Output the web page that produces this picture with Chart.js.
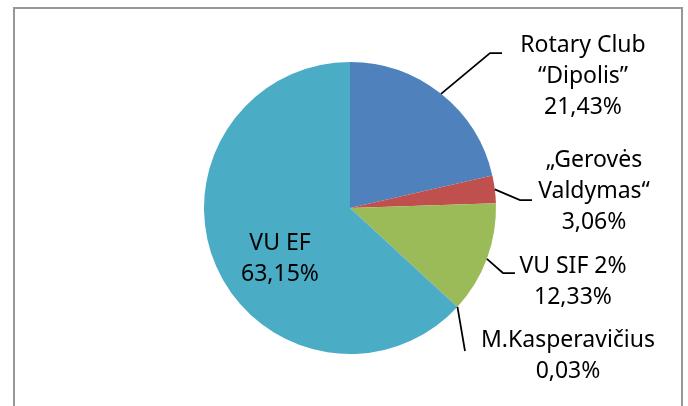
<!DOCTYPE html>
<html>
<head>
<meta charset="utf-8">
<script src="https://cdn.jsdelivr.net/npm/chart.js@4.4.1/dist/chart.umd.min.js"></script>
<style>
    html, body { margin: 0; padding: 0; background: #ffffff; }
    #wrap { width: 688px; height: 406px; position: relative; }
</style>
</head>
<body>
<div id="wrap"><canvas id="pieChart" width="688" height="406"></canvas></div>
<script>
// Data (percent shares)
const categories = ['Rotary Club\n“Dipolis”', '„Gerovės\nValdymas“', 'VU SIF 2%', 'M.Kasperavičius', 'VU EF'];
const shares = [21.43, 3.06, 12.33, 0.03, 63.15];
const sliceColors = ['#4f81bd', '#c0504d', '#9bbb59', '#8064a2', '#4bacc6'];

// Label layout, offsets in px from the pie centre
// leader: elbow / end points (null = label inside the slice)
const labelLayout = [
    { elbow: [140, -155], end: [152, -155], text: [233, -156] },
    { elbow: [170, -8],   end: [182, -8],   text: [244, -41] },
    { elbow: [153, 65],   end: [165, 65],   text: [223, 65] },
    { elbow: [115, 143],  end: null,        text: [218, 139] },
    { elbow: null,        end: null,        text: [-70, 42] }
];

const FONT = '23px "Noto Sans", "DejaVu Sans", sans-serif';
const LINE_H = 31;

function formatShare(v) {
    return v.toFixed(2).replace('.', ',') + '%';
}

// Frame round the chart
const framePlugin = {
    id: 'frame',
    beforeDraw(chart) {
        const ctx = chart.ctx;
        ctx.save();
        ctx.fillStyle = '#ffffff';
        ctx.fillRect(0, 0, chart.width, chart.height);
        ctx.strokeStyle = '#979797';
        ctx.lineWidth = 2;
        ctx.strokeRect(14, 8, 668, 420);
        ctx.restore();
    }
};

// Data labels with leader lines
const labelPlugin = {
    id: 'sliceLabels',
    afterDraw(chart) {
        const ctx = chart.ctx;
        const meta = chart.getDatasetMeta(0);
        ctx.save();
        ctx.font = FONT;
        ctx.textAlign = 'center';
        ctx.textBaseline = 'alphabetic';
        meta.data.forEach(function(arc, i) {
            const cx = arc.x, cy = arc.y;
            const lay = labelLayout[i];
            if (lay.elbow) {
                const mid = (arc.startAngle + arc.endAngle) / 2;
                const sx = cx + Math.cos(mid) * arc.outerRadius;
                const sy = cy + Math.sin(mid) * arc.outerRadius;
                ctx.beginPath();
                ctx.strokeStyle = '#000000';
                ctx.lineWidth = 1.75;
                ctx.moveTo(sx, sy);
                ctx.lineTo(cx + lay.elbow[0], cy + lay.elbow[1]);
                if (lay.end) ctx.lineTo(cx + lay.end[0], cy + lay.end[1]);
                ctx.stroke();
            }
            const lines = categories[i].split('\n').concat([formatShare(shares[i])]);
            ctx.fillStyle = '#000000';
            lines.forEach(function(line, k) {
                ctx.fillText(line, cx + lay.text[0], cy + lay.text[1] + k * LINE_H);
            });
        });
        ctx.restore();
    }
};

new Chart(document.getElementById('pieChart'), {
    type: 'pie',
    data: {
        labels: categories,
        datasets: [{
            data: shares,
            backgroundColor: sliceColors,
            borderWidth: 0
        }]
    },
    options: {
        responsive: false,
        animation: false,
        layout: {
            padding: { left: 54, right: 42, top: 62, bottom: 52 }
        },
        plugins: {
            legend: { display: false },
            tooltip: { enabled: false }
        }
    },
    plugins: [framePlugin, labelPlugin]
});
</script>
</body>
</html>
